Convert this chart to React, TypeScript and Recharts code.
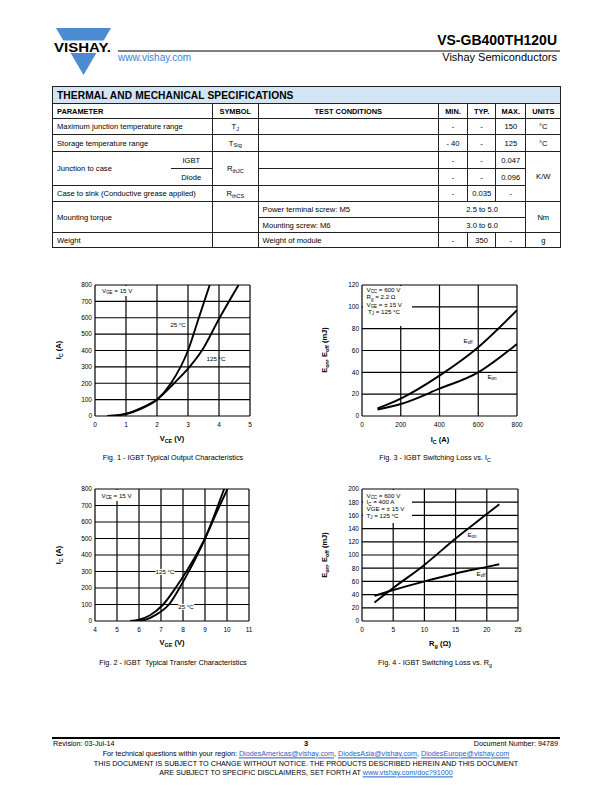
import React from 'react';
import { LineChart, Line, XAxis, YAxis, ReferenceLine } from 'recharts';

// Fig. 1 - output characteristics (VCE in V, IC in A)
const fig1Vce25 = [0.4, 0.7, 1.0, 1.5, 2.0, 2.45, 3.0, 3.35, 3.7];
const fig1Ic25 = [0, 3, 12, 45, 100, 200, 400, 600, 800];
const fig1Vce125 = [0.4, 0.7, 1.0, 1.5, 2.0, 2.55, 3.05, 3.45, 4.02, 4.63];
const fig1Ic125 = [0, 4, 14, 50, 100, 200, 300, 400, 600, 800];
const fig1XTicks = [0, 1, 2, 3, 4, 5];
const fig1YTicks = [0, 100, 200, 300, 400, 500, 600, 700, 800];

// Fig. 2 - transfer characteristics (VGE in V, IC in A)
const fig2Vge125 = [5.6, 6.0, 6.5, 7.1, 7.66, 8.2, 8.6, 9.0, 9.5, 10.02];
const fig2Ic125 = [0, 8, 35, 100, 200, 310, 400, 500, 650, 800];
const fig2Vge25 = [5.9, 6.3, 6.8, 7.36, 7.84, 8.3, 8.65, 9.0, 9.45, 9.87];
const fig2Ic25 = [0, 8, 40, 100, 200, 310, 400, 500, 650, 800];
const fig2XTicks = [4, 5, 6, 7, 8, 9, 10, 11];
const fig2YTicks = [0, 100, 200, 300, 400, 500, 600, 700, 800];

// Fig. 3 - switching loss vs IC (mJ)
const fig3Ic = [80, 200, 400, 600, 800];
const fig3Eoff = [7, 16, 37, 63, 97];
const fig3Eon = [6, 11, 25, 40, 66];
const fig3XTicks = [0, 200, 400, 600, 800];
const fig3YTicks = [0, 20, 40, 60, 80, 100, 120];

// Fig. 4 - switching loss vs Rg (mJ)
const fig4Rg = [2, 5, 10, 15, 20, 22];
const fig4Eon = [28, 50, 85, 125, 162, 177];
const fig4Eoff = [38, 47, 60, 72, 82, 86];
const fig4XTicks = [0, 5, 10, 15, 20, 25];
const fig4YTicks = [0, 20, 40, 60, 80, 100, 120, 140, 160, 180, 200];

const FONT = '"Liberation Sans", Arial, Helvetica, sans-serif';

const toPoints = (xs: number[], ys: number[]) => xs.map((x, i) => ({ x, y: ys[i] }));

const Sub = ({ children }: { children: React.ReactNode }) => (
    <span style={{ fontSize: '72%', position: 'relative', top: '0.3em' }}>{children}</span>
);

interface TxtProps {
    x: number;
    y: number;
    size?: number;
    bold?: boolean;
    align?: 'left' | 'center' | 'right';
    color?: string;
    bg?: string;
    rotate?: boolean;
    children: React.ReactNode;
}

const Txt = ({ x, y, size = 7, bold = false, align = 'left', color = '#000', bg, rotate, children }: TxtProps) => {
    const tx = align === 'left' ? '0' : align === 'center' ? '-50%' : '-100%';
    return (
        <div
            style={{
                position: 'absolute',
                left: x,
                top: y,
                transform: `translate(${tx}, -50%)${rotate ? ' rotate(-90deg)' : ''}`,
                fontSize: size,
                fontWeight: bold ? 'bold' : 'normal',
                color,
                background: bg,
                whiteSpace: 'nowrap',
                lineHeight: 1,
                fontFamily: FONT
            }}
        >
            {children}
        </div>
    );
};

const Box = ({ x, y, w, h }: { x: number; y: number; w: number; h: number }) => (
    <div style={{ position: 'absolute', left: x, top: y, width: w, height: h, background: '#fff' }} />
);

interface PanelProps {
    left: number;
    top: number;
    right: number;
    xHeight: number;
    xDomain: [number, number];
    xTicks: number[];
    yDomain: [number, number];
    yTicks: number[];
    series: { x: number; y: number }[][];
}

const tickStyle = { fontSize: 6.5, fill: '#000', fontFamily: FONT };
const GRID = 1.2;

const Panel = ({ left, top, right, xHeight, xDomain, xTicks, yDomain, yTicks, series }: PanelProps) => (
    <div style={{ position: 'absolute', left, top }}>
        <LineChart width={200} height={170} margin={{ top: 10, right, left: 0, bottom: 0 }}>
            <XAxis
                type="number"
                dataKey="x"
                domain={xDomain}
                ticks={xTicks}
                interval={0}
                allowDataOverflow
                axisLine={false}
                tickLine={false}
                tickSize={0}
                tickMargin={6}
                height={xHeight}
                tick={tickStyle}
            />
            <YAxis
                type="number"
                domain={yDomain}
                ticks={yTicks}
                interval={0}
                allowDataOverflow
                axisLine={false}
                tickLine={false}
                tickSize={0}
                tickMargin={3}
                width={35}
                tick={tickStyle}
            />
            {xTicks.map((t) => (
                <ReferenceLine key={'x' + t} x={t} stroke="#000" strokeWidth={GRID} strokeOpacity={1} ifOverflow="visible" />
            ))}
            {yTicks.map((t) => (
                <ReferenceLine key={'y' + t} y={t} stroke="#000" strokeWidth={GRID} strokeOpacity={1} ifOverflow="visible" />
            ))}
            {series.map((s, i) => (
                <Line
                    key={i}
                    data={s}
                    dataKey="y"
                    type="monotone"
                    stroke="#000"
                    strokeWidth={1.9}
                    dot={false}
                    isAnimationActive={false}
                />
            ))}
        </LineChart>
    </div>
);

const cell: React.CSSProperties = {
    border: '1px solid #222',
    padding: '0 4px',
    verticalAlign: 'middle',
    fontSize: 7.6,
    fontFamily: FONT,
    whiteSpace: 'nowrap',
    overflow: 'hidden'
};
const c = (extra: React.CSSProperties = {}): React.CSSProperties => ({ ...cell, textAlign: 'center', ...extra });
const l = (extra: React.CSSProperties = {}): React.CSSProperties => ({ ...cell, textAlign: 'left', ...extra });
const hdr: React.CSSProperties = { fontWeight: 'bold', fontSize: 7.4 };

const SpecTable = () => (
    <table
        style={{
            position: 'absolute',
            left: 52,
            top: 86,
            width: 508,
            borderCollapse: 'collapse',
            tableLayout: 'fixed'
        }}
    >
        <colgroup>
            <col style={{ width: 118 }} />
            <col style={{ width: 42 }} />
            <col style={{ width: 45.6 }} />
            <col style={{ width: 180.4 }} />
            <col style={{ width: 29 }} />
            <col style={{ width: 28.3 }} />
            <col style={{ width: 30 }} />
            <col style={{ width: 35 }} />
        </colgroup>
        <tbody>
            <tr style={{ height: 17 }}>
                <td colSpan={8} style={l({ background: '#d3e5f4', fontWeight: 900, fontSize: 10.2, letterSpacing: 0.1 })}>
                    THERMAL AND MECHANICAL SPECIFICATIONS
                </td>
            </tr>
            <tr style={{ height: 15 }}>
                <td colSpan={2} style={l(hdr)}>PARAMETER</td>
                <td style={c(hdr)}>SYMBOL</td>
                <td style={c(hdr)}>TEST CONDITIONS</td>
                <td style={c(hdr)}>MIN.</td>
                <td style={c(hdr)}>TYP.</td>
                <td style={c(hdr)}>MAX.</td>
                <td style={c({ ...hdr, padding: 0 })}>UNITS</td>
            </tr>
            <tr style={{ height: 16 }}>
                <td colSpan={2} style={l()}>Maximum junction temperature range</td>
                <td style={c()}>T<Sub>J</Sub></td>
                <td style={l()} />
                <td style={c()}>-</td>
                <td style={c()}>-</td>
                <td style={c()}>150</td>
                <td style={c()}>°C</td>
            </tr>
            <tr style={{ height: 17 }}>
                <td colSpan={2} style={l()}>Storage temperature range</td>
                <td style={c()}>T<Sub>Stg</Sub></td>
                <td style={l()} />
                <td style={c()}>- 40</td>
                <td style={c()}>-</td>
                <td style={c()}>125</td>
                <td style={c()}>°C</td>
            </tr>
            <tr style={{ height: 17 }}>
                <td rowSpan={2} style={l({ borderRight: 'hidden' })}>Junction to case</td>
                <td style={c()}>IGBT</td>
                <td rowSpan={2} style={c()}>R<Sub>thJC</Sub></td>
                <td style={l()} />
                <td style={c()}>-</td>
                <td style={c()}>-</td>
                <td style={c()}>0.047</td>
                <td rowSpan={3} style={c({ padding: 0 })}>K/W</td>
            </tr>
            <tr style={{ height: 17 }}>
                <td style={c()}>Diode</td>
                <td style={l()} />
                <td style={c()}>-</td>
                <td style={c()}>-</td>
                <td style={c()}>0.096</td>
            </tr>
            <tr style={{ height: 16 }}>
                <td colSpan={2} style={l()}>Case to sink (Conductive grease applied)</td>
                <td style={c()}>R<Sub>thCS</Sub></td>
                <td style={l()} />
                <td style={c()}>-</td>
                <td style={c()}>0.035</td>
                <td style={c()}>-</td>
            </tr>
            <tr style={{ height: 16 }}>
                <td colSpan={2} rowSpan={2} style={l()}>Mounting torque</td>
                <td rowSpan={2} style={c()} />
                <td style={l()}>Power terminal screw: M5</td>
                <td colSpan={3} style={c()}>2.5 to 5.0</td>
                <td rowSpan={2} style={c()}>Nm</td>
            </tr>
            <tr style={{ height: 15 }}>
                <td style={l()}>Mounting screw: M6</td>
                <td colSpan={3} style={c()}>3.0 to 6.0</td>
            </tr>
            <tr style={{ height: 15 }}>
                <td colSpan={2} style={l()}>Weight</td>
                <td style={c()} />
                <td style={l()}>Weight of module</td>
                <td style={c()}>-</td>
                <td style={c()}>350</td>
                <td style={c()}>-</td>
                <td style={c()}>g</td>
            </tr>
        </tbody>
    </table>
);

const link: React.CSSProperties = { color: '#1f5fc4', textDecoration: 'underline' };

export default function App() {
    const ann = 6.2;
    return (
        <div
            style={{
                position: 'absolute',
                left: 0,
                top: 0,
                width: 612,
                height: 792,
                background: '#fff',
                fontFamily: FONT,
                overflow: 'hidden'
            }}
        >
            {/* header */}
            <svg width={612} height={80} style={{ position: 'absolute', left: 0, top: 0 }}>
                <polygon points="56,28 111,28 83.5,75" fill="#4a8bd2" />
                <rect x={50} y={40.5} width={66} height={12.5} fill="#fff" />
                <text
                    x={54}
                    y={51.5}
                    fontSize={12.5}
                    fontWeight={900}
                    fontFamily={FONT}
                    textLength={57}
                    lengthAdjust="spacingAndGlyphs"
                    fill="#000"
                >
                    VISHAY.
                </text>
                <line x1={118} y1={51} x2={560} y2={51} stroke="#000" strokeWidth={1} />
            </svg>
            <Txt x={118} y={58} size={10} color="#3a82d6">www.vishay.com</Txt>
            <Txt x={557} y={40} size={14} bold align="right">VS-GB400TH120U</Txt>
            <Txt x={557} y={57} size={11} align="right">Vishay Semiconductors</Txt>

            <SpecTable />

            {/* charts */}
            <Panel
                left={60}
                top={275}
                right={10}
                xHeight={29}
                xDomain={[0, 5]}
                xTicks={fig1XTicks}
                yDomain={[0, 800]}
                yTicks={fig1YTicks}
                series={[toPoints(fig1Vce25, fig1Ic25), toPoints(fig1Vce125, fig1Ic125)]}
            />
            <Panel
                left={327}
                top={275}
                right={10}
                xHeight={29}
                xDomain={[0, 800]}
                xTicks={fig3XTicks}
                yDomain={[0, 120]}
                yTicks={fig3YTicks}
                series={[toPoints(fig3Ic, fig3Eoff), toPoints(fig3Ic, fig3Eon)]}
            />
            <Panel
                left={60}
                top={479}
                right={11}
                xHeight={28}
                xDomain={[4, 11]}
                xTicks={fig2XTicks}
                yDomain={[0, 800]}
                yTicks={fig2YTicks}
                series={[toPoints(fig2Vge125, fig2Ic125), toPoints(fig2Vge25, fig2Ic25)]}
            />
            <Panel
                left={327}
                top={479}
                right={9}
                xHeight={28}
                xDomain={[0, 25]}
                xTicks={fig4XTicks}
                yDomain={[0, 200]}
                yTicks={fig4YTicks}
                series={[toPoints(fig4Rg, fig4Eon), toPoints(fig4Rg, fig4Eoff)]}
            />

            {/* Fig 1 texts */}
            <Box x={96} y={286} w={41} h={10} />
            <Txt x={102} y={291} size={ann}>V<Sub>GE</Sub> = 15 V</Txt>
            <Txt x={178} y={325} size={ann} align="center">25 °C</Txt>
            <Txt x={216} y={359} size={ann} align="center">125 °C</Txt>
            <Txt x={59} y={350} size={7.5} bold align="center" rotate>I<Sub>C</Sub> (A)</Txt>
            <Txt x={172} y={439} size={7.5} bold align="center">V<Sub>CE</Sub> (V)</Txt>
            <Txt x={173} y={458} size={7.3} align="center">Fig. 1 - IGBT Typical Output Characteristics</Txt>

            {/* Fig 3 texts */}
            <Box x={363} y={286} w={49} h={40} />
            <Txt x={366.5} y={290} size={ann}>V<Sub>CC</Sub> = 600 V</Txt>
            <Txt x={366.5} y={297.3} size={ann}>R<Sub>g</Sub> = 2.2 Ω</Txt>
            <Txt x={366.5} y={304.5} size={ann}>V<Sub>GE</Sub> = ± 15 V</Txt>
            <Txt x={368} y={311.7} size={ann}>T<Sub>J</Sub> = 125 °C</Txt>
            <Txt x={468} y={341} size={ann} align="center">E<Sub>off</Sub></Txt>
            <Txt x={492} y={377} size={ann} align="center">E<Sub>on</Sub></Txt>
            <Txt x={325} y={350} size={7.5} bold align="center" rotate>E<Sub>on</Sub>, E<Sub>off</Sub> (mJ)</Txt>
            <Txt x={440} y={440} size={7.5} bold align="center">I<Sub>C</Sub> (A)</Txt>
            <Txt x={435} y={458} size={7.3} align="center">Fig. 3 - IGBT Switching Loss vs. I<Sub>C</Sub></Txt>

            {/* Fig 2 texts */}
            <Box x={96} y={490} w={42} h={11} />
            <Txt x={101.5} y={495.5} size={ann}>V<Sub>CE</Sub> = 15 V</Txt>
            <Txt x={165} y={572} size={ann} align="center" bg="#fff">125 °C</Txt>
            <Txt x={186} y={607} size={ann} align="center" bg="#fff">25 °C</Txt>
            <Txt x={59} y={555} size={7.5} bold align="center" rotate>I<Sub>C</Sub> (A)</Txt>
            <Txt x={172} y={643} size={7.5} bold align="center">V<Sub>GE</Sub> (V)</Txt>
            <Txt x={173} y={663} size={7.3} align="center">Fig. 2 - IGBT&nbsp; Typical Transfer Characteristics</Txt>

            {/* Fig 4 texts */}
            <Box x={363} y={490} w={49} h={33} />
            <Txt x={366.5} y={495.5} size={ann}>V<Sub>CC</Sub> = 600 V</Txt>
            <Txt x={366.5} y={502.3} size={ann}>I<Sub>C</Sub> = 400 A</Txt>
            <Txt x={366.5} y={509.2} size={ann}>VGE = ± 15 V</Txt>
            <Txt x={366.5} y={516} size={ann}>T<Sub>J</Sub> = 125 °C</Txt>
            <Txt x={472} y={535} size={ann} align="center">E<Sub>on</Sub></Txt>
            <Txt x={481} y={574} size={ann} align="center">E<Sub>off</Sub></Txt>
            <Txt x={325} y={555} size={7.5} bold align="center" rotate>E<Sub>on</Sub>, E<Sub>off</Sub> (mJ)</Txt>
            <Txt x={440} y={644} size={7.5} bold align="center">R<Sub>g</Sub> (Ω)</Txt>
            <Txt x={435} y={663} size={7.3} align="center">Fig. 4 - IGBT Switching Loss vs. R<Sub>g</Sub></Txt>

            {/* footer */}
            <div style={{ position: 'absolute', left: 52, top: 737, width: 508, height: 1.5, background: '#000' }} />
            <Txt x={53} y={743.5} size={7.2}>Revision: 03-Jul-14</Txt>
            <Txt x={306} y={744} size={7.5} bold align="center">3</Txt>
            <Txt x={558} y={743.5} size={7.2} align="right">Document Number: 94789</Txt>
            <Txt x={306} y={753.5} size={7.2} align="center">
                For technical questions within your region: <span style={link}>DiodesAmericas@vishay.com</span>,{' '}
                <span style={link}>DiodesAsia@vishay.com</span>, <span style={link}>DiodesEurope@vishay.com</span>
            </Txt>
            <Txt x={306} y={764} size={7.2} align="center">
                THIS DOCUMENT IS SUBJECT TO CHANGE WITHOUT NOTICE. THE PRODUCTS DESCRIBED HEREIN AND THIS DOCUMENT
            </Txt>
            <Txt x={306} y={772.5} size={7.2} align="center">
                ARE SUBJECT TO SPECIFIC DISCLAIMERS, SET FORTH AT <span style={link}>www.vishay.com/doc?91000</span>
            </Txt>
        </div>
    );
}
